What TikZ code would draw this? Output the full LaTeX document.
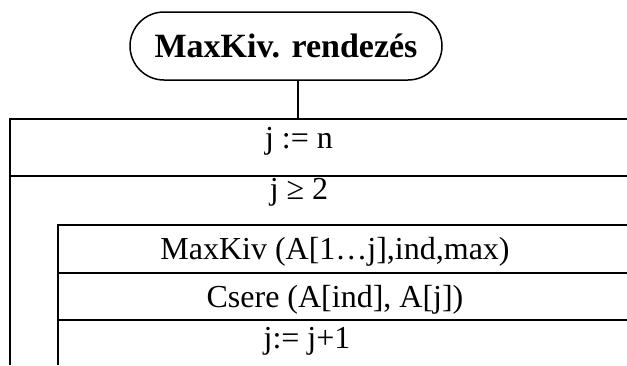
\documentclass[tikz,border=0pt]{standalone}
\usepackage{fontspec}
\setmainfont{Liberation Serif}
\begin{document}
\begin{tikzpicture}[x=1pt,y=-1pt,
  frame/.style={line width=2pt},
  term/.style={draw,line width=1.5pt,rounded corners=34pt,minimum width=312pt,minimum height=68pt,inner sep=0pt,font=\fontsize{34}{40}\selectfont\bfseries},
  txt/.style={anchor=base,inner sep=0pt,font=\fontsize{32}{38}\selectfont}]
\useasboundingbox (0,0) rectangle (627,365);
\node[term] (start) at (286,46) {MaxKiv. rendezés};
\coordinate (top) at (298,119);
\draw[line width=1.5pt] (start.south -| top) -- (top);
% structogram frame
\draw[frame] (10,365) -- (10,119) -- (627,119);
\draw[frame] (10,176) -- (627,176);
\draw[frame] (58,365) -- (58,225) -- (627,225);
\draw[frame] (58,273) -- (627,273);
\draw[frame] (58,320) -- (627,320);
\node[txt] (init) at (299,148) {j := n};
\node[txt] (cond) at (299,199) {j ≥ 2};
\node[txt] (maxkiv) at (335,259) {MaxKiv (A[1…j],ind,max)};
\node[txt] (csere) at (335,307) {Csere (A[ind], A[j])};
\node[txt] (incr) at (307,348) {j:= j+1};
\end{tikzpicture}
\end{document}
